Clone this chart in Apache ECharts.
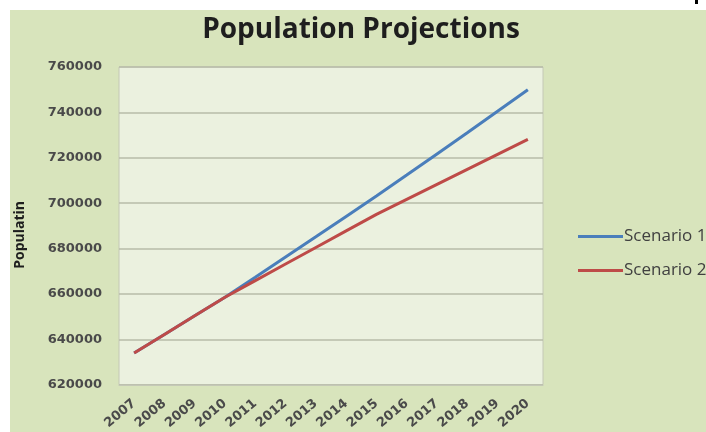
<!DOCTYPE html>
<html>
<head>
<meta charset="utf-8">
<script src="https://cdn.jsdelivr.net/npm/echarts@6/dist/echarts.min.js"></script>
<style>
  html, body { margin: 0; padding: 0; background: #ffffff; }
  #chart { width: 706px; height: 432px; }
</style>
</head>
<body>
<div id="chart"></div>
<script>
// Projected population by year under two growth scenarios
const years = ['2007', '2008', '2009', '2010', '2011', '2012', '2013',
               '2014', '2015', '2016', '2017', '2018', '2019', '2020'];
const scenario1 = [634000, 642200, 650400, 658600, 667400, 676300, 685200,
                   694200, 703200, 712400, 721700, 731000, 740500, 750000];
const scenario2 = [634000, 642200, 650400, 658600, 665900, 673200, 680500,
                   687800, 695100, 701700, 708300, 714900, 721500, 728100];
const seriesNames = ['Scenario 1', 'Scenario 2'];

const chart = echarts.init(document.getElementById('chart'), null, { renderer: 'canvas' });

const labelFont = { fontFamily: 'DejaVu Sans', fontWeight: 'bold', fontSize: 13, color: '#4a4a4a' };

chart.setOption({
  animation: false,
  backgroundColor: '#ffffff',
  graphic: [
    {
      type: 'rect', z: -10, silent: true,
      shape: { x: 10, y: 10, width: 696, height: 422 },
      style: { fill: '#d8e4bc' }
    },
    {
      type: 'rect', z: -10, silent: true,
      shape: { x: 695, y: 0, width: 3, height: 4 },
      style: { fill: '#000000' }
    }
  ],
  title: {
    text: 'Population Projections',
    left: 356,
    top: 11,
    textAlign: 'center',
    textStyle: { fontFamily: 'Open Sans', fontWeight: 'bold', fontSize: 28, color: '#1e1e1e' }
  },
  legend: {
    orient: 'vertical',
    left: 573,
    top: 223,
    itemWidth: 45,
    itemHeight: 3,
    itemGap: 17,
    icon: 'rect',
    data: seriesNames,
    textStyle: { fontFamily: 'Open Sans', fontSize: 17, color: '#404040', padding: [0, 0, 0, -4] }
  },
  grid: {
    left: 119, right: 163, top: 67, bottom: 47,
    show: true,
    backgroundColor: '#ebf1df',
    borderColor: '#c4c8b6',
    borderWidth: 1
  },
  xAxis: {
    type: 'category',
    data: years,
    boundaryGap: true,
    axisLine: { show: true, lineStyle: { color: '#c4c8b6' } },
    axisTick: { show: false },
    axisLabel: Object.assign({ rotate: 40, margin: 17, interval: 0 }, labelFont)
  },
  yAxis: {
    type: 'value',
    min: 620000,
    max: 760000,
    interval: 20000,
    name: 'Populatin',
    nameLocation: 'middle',
    nameGap: 92,
    nameRotate: 90,
    nameTextStyle: { fontFamily: 'Open Sans', fontWeight: 'bold', fontSize: 14, color: '#1e1e1e', padding: [0, 0, 0, -18] },
    axisLine: { show: false },
    axisTick: { show: false },
    axisLabel: Object.assign({ margin: 17, formatter: (v) => String(v) }, labelFont),
    splitLine: { show: true, lineStyle: { color: '#b7bba8', width: 1.5 } }
  },
  series: [
    {
      name: seriesNames[0],
      type: 'line',
      data: scenario1,
      symbol: 'none',
      lineStyle: { color: '#4a7ebb', width: 3 },
      itemStyle: { color: '#4a7ebb' }
    },
    {
      name: seriesNames[1],
      type: 'line',
      data: scenario2,
      symbol: 'none',
      lineStyle: { color: '#be4b48', width: 3 },
      itemStyle: { color: '#be4b48' }
    }
  ]
});
</script>
</body>
</html>
